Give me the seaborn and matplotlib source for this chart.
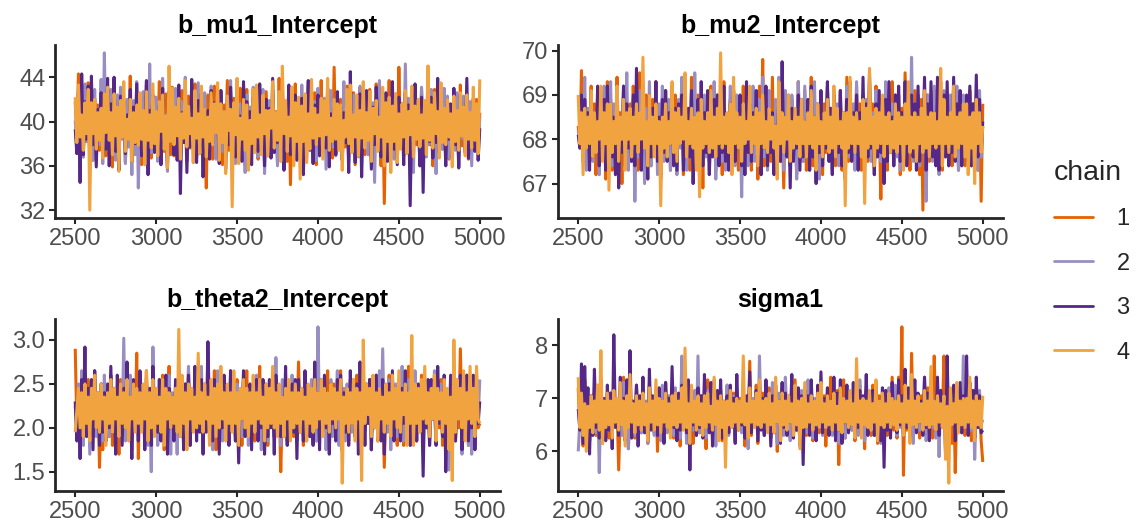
import numpy as np
import pandas as pd
import seaborn as sns
import matplotlib.pyplot as plt
from matplotlib.lines import Line2D

# ---------------------------------------------------------------------------
# Thinned posterior draws for four chains, post-warmup iterations 2500-5000
# ---------------------------------------------------------------------------
parameters = ["b_mu1_Intercept", "b_mu2_Intercept", "b_theta2_Intercept", "sigma1"]
chains = ["1", "2", "3", "4"]
chain_colors = ["#E66101", "#998EC3", "#542788", "#F1A340"]

x_ticks = [2500, 3000, 3500, 4000, 4500, 5000]
y_ticks = {
    "b_mu1_Intercept": [32, 36, 40, 44],
    "b_mu2_Intercept": [67, 68, 69, 70],
    "b_theta2_Intercept": [1.5, 2.0, 2.5, 3.0],
    "sigma1": [6, 7, 8],
}
y_tick_labels = {
    "b_mu1_Intercept": ["32", "36", "40", "44"],
    "b_mu2_Intercept": ["67", "68", "69", "70"],
    "b_theta2_Intercept": ["1.5", "2.0", "2.5", "3.0"],
    "sigma1": ["6", "7", "8"],
}

mu1_chain1 = [
    41.8, 38.6, 44.3, 37.9, 40.9, 36.8, 42.6, 38.2, 43.5, 37.1, 40.2, 36.5, 42.1, 38.8, 41.5, 37.4, 43.0, 38.1, 40.7, 36.9,
    42.4, 37.6, 41.2, 35.9, 43.8, 38.0, 40.5, 37.2, 42.9, 38.7, 41.9, 36.3, 40.8, 37.8, 44.1, 36.5, 41.3, 38.3, 42.7, 37.5,
    40.6, 36.1, 41.9, 38.4, 43.3, 37.0, 41.4, 36.7, 42.2, 37.9, 40.4, 38.5, 43.6, 36.2, 41.0, 37.3, 42.5, 38.9, 40.6, 37.0,
    43.1, 36.9, 41.7, 38.2, 40.1, 37.7, 42.8, 38.4, 41.6, 36.4, 42.3, 37.6, 41.8, 38.2, 43.4, 36.8, 40.9, 37.1, 42.0, 38.0,
    40.3, 34.0, 42.4, 37.4, 41.1, 36.6, 43.2, 37.8, 40.7, 38.3, 42.6, 36.1, 41.5, 37.9, 43.7, 37.4, 41.0, 38.6, 42.1, 36.8,
    41.6, 37.2, 43.0, 38.5, 40.8, 36.0, 42.9, 37.8, 41.3, 38.1, 43.0, 37.5, 40.6, 36.6, 42.2, 38.4, 41.0, 37.3, 42.7, 36.9,
    41.7, 37.7, 42.8, 38.4, 40.9, 36.3, 43.9, 37.3, 41.3, 38.7, 40.0, 36.4, 42.3, 34.3, 41.8, 38.2, 43.4, 37.1, 40.3, 38.9,
    42.0, 36.6, 41.1, 37.7, 43.2, 37.8, 40.7, 38.3, 42.6, 36.1, 41.5, 38.6, 43.7, 37.4, 40.8, 37.2, 42.1, 38.5, 41.6, 36.7,
    44.9, 37.1, 40.3, 38.9, 42.0, 36.6, 41.1, 37.7, 43.2, 37.8, 40.7, 38.3, 42.6, 36.1, 41.9, 37.6, 43.1, 38.4, 40.6, 37.0,
    41.8, 38.2, 42.9, 36.7, 41.2, 37.5, 43.4, 38.8, 40.5, 36.0, 42.3, 32.6, 41.5, 38.6, 43.7, 37.4, 40.9, 37.9, 42.2, 36.8,
    44.9, 39.0, 41.6, 36.8, 42.1, 38.5, 40.8, 37.2, 41.6, 38.4, 43.2, 37.9, 40.2, 36.0, 42.9, 38.8, 41.3, 37.3, 45.0, 37.9,
    40.2, 36.0, 42.9, 38.8, 41.3, 37.1, 43.0, 37.5, 40.6, 38.4, 42.2, 36.6, 41.0, 37.6, 42.6, 38.0, 40.4, 36.9, 43.3, 37.8,
    41.2, 38.4, 42.2, 36.6, 41.0, 37.9, 40.8, 38.1, 42.0, 37.2, 40.8,
]
mu1_chain2 = [
    40.1, 37.6, 42.8, 38.9, 41.3, 36.8, 43.4, 38.2, 40.5, 37.3, 41.7, 36.5, 42.9, 38.3, 41.0, 37.9, 43.8, 36.2, 46.2, 38.0,
    41.7, 37.3, 42.9, 38.6, 40.8, 36.5, 42.4, 37.9, 43.1, 38.4, 41.5, 36.2, 42.0, 37.7, 40.3, 35.2, 41.9, 37.0, 43.6, 34.0,
    41.2, 38.8, 42.7, 37.5, 40.0, 35.8, 45.2, 37.2, 41.6, 38.1, 42.2, 36.4, 41.4, 38.7, 43.9, 37.8, 40.6, 35.5, 42.5, 38.7,
    41.1, 37.1, 43.0, 38.2, 40.9, 36.9, 41.8, 38.5, 44.0, 37.4, 40.7, 38.5, 42.3, 36.3, 41.2, 37.6, 43.5, 38.2, 40.2, 35.9,
    42.6, 38.9, 41.0, 37.0, 43.2, 38.3, 40.4, 36.6, 41.7, 38.3, 42.8, 37.3, 40.4, 36.9, 41.9, 38.6, 43.7, 37.9, 40.1, 36.2,
    42.0, 39.0, 41.6, 37.7, 40.9, 35.4, 42.4, 38.8, 41.3, 37.1, 43.1, 38.5, 40.6, 36.8, 41.5, 38.0, 42.9, 35.3, 40.6, 38.4,
    41.9, 37.5, 42.3, 39.1, 40.8, 36.0, 41.1, 38.3, 43.4, 37.6, 40.2, 38.9, 42.7, 37.0, 41.3, 36.4, 42.0, 38.6, 40.9, 37.2,
    43.3, 38.1, 41.4, 36.7, 42.6, 37.9, 40.5, 38.7, 41.8, 36.5, 43.0, 37.4, 40.7, 38.2, 42.1, 35.7, 41.6, 38.0, 42.8, 37.7,
    40.3, 36.9, 42.5, 38.4, 41.2, 37.2, 43.6, 38.9, 40.6, 36.3, 41.9, 37.8, 42.4, 38.6, 40.8, 36.8, 43.2, 37.5, 41.1, 38.1,
    42.7, 37.0, 40.9, 38.3, 41.7, 34.5, 42.0, 37.6, 43.7, 38.7, 40.4, 36.2, 42.0, 37.9, 41.3, 38.4, 40.7, 36.6, 42.5, 37.3,
    41.6, 38.2, 40.9, 36.9, 45.2, 37.7, 42.1, 38.5, 40.6, 35.4, 42.4, 38.8, 41.3, 37.1, 43.1, 39.0, 40.5, 36.8, 41.5, 38.0,
    42.9, 37.2, 40.8, 35.3, 41.7, 38.4, 41.9, 37.5, 43.0, 38.6, 42.3, 36.7, 40.9, 38.2, 41.4, 37.4, 42.6, 36.0, 41.1, 38.5,
    42.3, 37.5, 40.6, 39.2, 41.8, 36.0, 42.1, 38.3, 41.1, 37.8, 40.3,
]
mu1_chain3 = [
    39.3, 37.1, 42.6, 34.5, 44.3, 37.0, 41.8, 38.4, 43.2, 36.2, 44.1, 37.9, 40.7, 35.9, 41.1, 38.9, 42.6, 36.8, 40.3, 37.5,
    43.9, 36.0, 41.6, 38.2, 44.0, 37.3, 40.9, 35.6, 42.3, 39.4, 41.8, 37.1, 40.6, 38.6, 42.9, 36.4, 41.3, 38.0, 43.4, 37.8,
    42.1, 36.9, 40.6, 38.7, 43.7, 35.2, 41.0, 39.6, 42.4, 37.2, 40.2, 38.3, 41.5, 36.1, 43.0, 37.6, 39.8, 35.8, 42.7, 38.9,
    41.2, 37.0, 39.9, 36.5, 43.3, 33.5, 40.8, 38.1, 42.0, 35.4, 41.4, 37.7, 43.8, 38.5, 40.4, 36.3, 41.9, 39.3, 42.5, 35.0,
    40.1, 37.4, 41.0, 36.6, 42.8, 38.0, 41.7, 39.5, 40.7, 36.2, 42.8, 38.4, 40.7, 35.7, 41.3, 37.9, 43.1, 39.7, 41.0, 36.8,
    42.6, 38.2, 40.5, 36.4, 43.6, 38.6, 41.8, 37.5, 40.9, 36.1, 42.2, 39.0, 41.5, 37.3, 43.4, 38.7, 40.3, 36.0, 42.0, 38.1,
    41.2, 36.7, 43.9, 37.2, 40.4, 38.1, 42.0, 36.9, 41.6, 35.6, 40.6, 38.7, 43.3, 37.0, 41.8, 38.3, 42.4, 36.5, 40.8, 37.8,
    42.1, 35.2, 41.0, 38.6, 43.7, 37.4, 40.2, 36.2, 41.5, 38.9, 42.4, 36.9, 40.6, 38.3, 41.9, 37.6, 43.0, 35.9, 40.7, 38.5,
    41.2, 37.0, 42.7, 38.9, 41.4, 36.5, 40.8, 38.1, 42.0, 35.4, 44.5, 37.7, 40.4, 36.3, 41.9, 39.3, 42.5, 35.0, 40.6, 37.9,
    42.8, 38.4, 40.7, 35.7, 41.3, 37.9, 43.1, 39.7, 40.1, 36.8, 41.0, 38.2, 42.6, 36.4, 40.5, 38.6, 43.6, 37.5, 41.8, 36.1,
    42.2, 39.0, 40.9, 36.1, 42.6, 38.7, 41.5, 32.4, 40.5, 37.3, 43.4, 38.6, 41.1, 36.0, 42.2, 33.6, 41.8, 37.5, 40.9, 38.2,
    42.2, 36.7, 40.3, 38.1, 43.9, 37.2, 41.5, 38.7, 40.1, 36.0, 42.0, 38.4, 41.6, 36.7, 43.0, 37.9, 40.5, 35.8, 42.4, 38.9,
    41.0, 37.2, 43.9, 36.7, 40.3, 38.1, 42.0, 37.3, 41.4, 36.5, 39.4,
]
mu1_chain4 = [
    42.2, 38.1, 43.3, 38.6, 40.6, 37.4, 41.7, 38.9, 42.9, 32.0, 41.7, 38.9, 42.0, 37.5, 40.8, 38.3, 41.2, 36.7, 42.5, 39.0,
    43.1, 38.3, 40.8, 37.0, 42.5, 38.7, 41.3, 35.5, 41.9, 38.6, 43.6, 37.3, 40.2, 38.4, 42.0, 36.4, 40.8, 38.1, 41.5, 37.8,
    42.6, 38.4, 41.0, 36.1, 42.7, 38.3, 40.6, 37.6, 43.4, 38.0, 40.9, 36.9, 41.8, 39.1, 42.4, 37.5, 40.5, 35.8, 45.0, 38.2,
    43.0, 37.9, 41.3, 38.7, 42.1, 36.6, 40.7, 38.5, 43.7, 37.7, 41.4, 38.9, 40.3, 36.3, 42.8, 38.5, 40.7, 37.1, 43.2, 38.6,
    41.1, 36.8, 40.4, 38.2, 42.6, 37.9, 41.6, 39.0, 43.5, 36.5, 41.6, 38.1, 40.9, 35.3, 42.3, 39.2, 41.1, 32.3, 41.7, 38.8,
    43.9, 36.2, 40.3, 38.4, 42.0, 37.4, 41.5, 35.6, 40.1, 38.0, 42.9, 37.2, 43.3, 38.6, 40.6, 37.0, 42.4, 38.9, 41.0, 36.9,
    41.0, 39.4, 43.6, 37.6, 40.8, 38.3, 42.7, 36.4, 45.0, 38.9, 41.9, 37.3, 40.4, 38.7, 43.1, 36.0, 41.7, 38.2, 42.2, 34.8,
    41.4, 38.2, 42.5, 36.3, 40.7, 37.5, 43.8, 38.5, 41.2, 37.9, 40.6, 38.7, 42.1, 36.6, 41.9, 38.8, 43.9, 37.4, 40.3, 38.2,
    42.0, 38.4, 41.6, 37.4, 41.5, 35.6, 40.1, 38.6, 42.9, 38.0, 43.3, 37.2, 40.6, 38.6, 42.4, 36.9, 41.0, 38.5, 43.6, 37.6,
    40.8, 38.3, 42.7, 36.4, 41.2, 38.9, 41.9, 37.3, 40.4, 38.6, 43.1, 36.0, 41.7, 38.2, 42.2, 35.4, 41.4, 38.2, 42.5, 36.3,
    40.7, 37.5, 41.6, 38.6, 42.8, 37.1, 40.9, 38.8, 43.2, 36.8, 41.4, 38.4, 42.0, 37.7, 40.6, 38.5, 41.9, 37.0, 45.0, 38.3,
    41.5, 37.6, 42.6, 38.9, 40.9, 36.7, 43.5, 38.1, 41.2, 37.9, 42.0, 38.6, 40.7, 35.9, 42.3, 38.2, 41.0, 37.4, 42.6, 38.7,
    41.3, 36.9, 42.4, 38.4, 40.8, 37.6, 43.1, 38.3, 41.6, 37.1, 43.8,
]

mu2_chain1 = [
    68.3, 67.8, 69.55, 67.6, 68.9, 67.4, 68.6, 67.9, 69.2, 67.6, 68.8, 67.2, 68.5, 67.7, 69.0, 67.9, 68.7, 67.1, 69.3, 67.7,
    68.9, 67.3, 68.4, 67.8, 69.4, 67.5, 68.6, 67.0, 69.1, 67.9, 68.5, 67.6, 68.8, 67.5, 69.2, 67.9, 68.4, 67.3, 69.5, 67.8,
    68.7, 67.2, 69.0, 67.7, 68.5, 67.4, 68.9, 67.8, 69.3, 67.5, 68.6, 67.1, 68.8, 67.6, 69.1, 67.9, 68.4, 67.3, 68.8, 67.6,
    69.0, 67.4, 68.6, 67.9, 69.3, 67.2, 68.7, 67.7, 68.5, 67.3, 69.4, 67.8, 68.8, 67.5, 69.0, 67.4, 68.6, 66.9, 68.9, 67.8,
    68.7, 67.5, 69.2, 67.7, 68.5, 67.3, 69.0, 67.9, 68.6, 67.2, 69.3, 67.6, 68.4, 67.8, 68.9, 67.4, 69.1, 67.6, 68.7, 67.3,
    68.9, 67.7, 69.2, 67.5, 68.6, 67.9, 69.0, 67.3, 68.5, 67.6, 68.8, 67.1, 69.2, 67.7, 69.8, 67.4, 68.6, 67.9, 68.9, 67.5,
    69.4, 67.3, 68.7, 67.8, 69.2, 67.5, 68.5, 66.9, 68.6, 67.8, 69.0, 67.4, 68.9, 67.6, 68.4, 67.2, 69.3, 67.8, 68.7, 67.5,
    69.1, 67.3, 68.6, 67.7, 69.4, 67.4, 68.9, 67.9, 68.5, 67.5, 69.0, 67.2, 68.8, 67.7, 69.2, 67.6, 68.4, 67.9, 69.0, 67.4,
    68.7, 67.6, 69.1, 67.3, 68.6, 67.7, 69.4, 67.5, 68.9, 67.8, 68.5, 67.4, 69.2, 67.6, 68.8, 67.3, 69.0, 67.9, 68.6, 67.5,
    69.0, 67.7, 68.8, 67.4, 69.2, 67.9, 68.4, 66.65, 68.9, 67.6, 69.1, 67.3, 68.7, 67.8, 69.3, 67.5, 68.5, 67.7, 69.0, 67.2,
    68.7, 67.6, 69.5, 67.8, 68.5, 67.3, 68.9, 67.7, 69.1, 67.5, 68.6, 67.2, 68.9, 66.4, 68.7, 67.7, 69.0, 67.5, 68.5, 67.9,
    69.1, 67.5, 68.7, 67.9, 69.3, 67.3, 68.6, 67.8, 69.0, 67.6, 68.8, 67.4, 69.2, 67.7, 68.5, 67.3, 69.0, 67.8, 68.6, 67.4,
    68.8, 67.8, 69.1, 67.4, 68.8, 67.6, 68.5, 67.3, 68.9, 66.6, 68.8,
]
mu2_chain2 = [
    68.2, 67.9, 69.0, 67.6, 69.4, 67.3, 68.7, 67.8, 69.1, 67.5, 68.5, 67.8, 68.9, 67.2, 68.6, 67.7, 69.2, 67.4, 68.4, 67.9,
    69.3, 67.4, 68.8, 67.6, 69.0, 67.1, 68.5, 67.7, 69.2, 67.8, 69.5, 67.3, 68.6, 67.9, 68.9, 66.6, 68.4, 67.6, 69.1, 67.5,
    68.7, 67.0, 68.7, 67.6, 69.3, 67.4, 68.5, 67.8, 69.0, 67.2, 68.8, 67.7, 69.2, 67.5, 68.4, 67.9, 68.9, 67.3, 69.1, 67.6,
    68.6, 67.2, 68.9, 67.8, 69.4, 67.5, 68.7, 67.3, 68.5, 67.9, 69.1, 67.4, 69.5, 67.7, 68.6, 67.2, 68.9, 67.8, 69.0, 67.6,
    68.8, 67.3, 68.5, 67.7, 69.3, 67.1, 68.6, 67.8, 69.0, 67.5, 68.9, 67.3, 68.4, 67.9, 69.2, 67.6, 68.7, 67.4, 69.0, 67.8,
    68.5, 66.7, 68.8, 67.9, 69.0, 67.4, 68.6, 67.7, 69.2, 67.5, 68.4, 67.8, 68.9, 67.2, 69.4, 67.6, 68.7, 67.3, 69.1, 67.8,
    68.6, 67.5, 68.9, 67.2, 69.4, 67.8, 68.7, 67.3, 69.1, 67.6, 68.8, 67.4, 69.0, 67.9, 68.5, 67.1, 69.3, 67.7, 68.8, 67.5,
    69.2, 67.6, 68.6, 67.3, 68.9, 67.8, 69.3, 67.4, 68.6, 67.1, 69.0, 67.7, 68.4, 67.9, 69.2, 67.5, 68.7, 67.3, 69.1, 67.6,
    68.8, 67.4, 69.0, 67.8, 68.5, 67.2, 69.2, 67.6, 68.4, 67.9, 68.8, 67.3, 69.3, 67.5, 68.6, 67.7, 69.0, 67.4, 68.9, 67.8,
    69.3, 67.5, 68.6, 67.2, 69.1, 67.8, 68.7, 67.5, 68.9, 67.3, 69.3, 67.6, 68.5, 67.9, 68.8, 67.4, 69.0, 67.6, 68.6, 67.3,
    68.5, 67.9, 69.0, 67.6, 68.7, 67.8, 69.85, 67.5, 68.8, 67.6, 69.0, 67.4, 68.6, 67.7, 68.4, 66.6, 69.0, 67.8, 68.7, 67.5,
    69.2, 67.5, 68.6, 67.2, 68.9, 67.8, 69.1, 67.6, 68.8, 67.4, 69.0, 67.9, 68.4, 67.6, 69.2, 67.3, 68.7, 67.4, 69.0, 67.6,
    68.7, 67.4, 69.0, 67.8, 68.6, 67.6, 68.9, 67.3, 69.1, 67.6, 68.3,
]
mu2_chain3 = [
    68.1, 67.8, 69.0, 67.5, 68.9, 67.9, 68.6, 67.3, 69.1, 67.6, 68.5, 67.8, 69.2, 67.4, 68.7, 67.7, 68.9, 67.3, 69.2, 67.6,
    68.8, 67.6, 68.5, 67.2, 69.0, 66.9, 68.5, 67.7, 69.2, 67.4, 68.8, 67.8, 68.3, 67.5, 69.0, 67.4, 69.6, 67.8, 68.6, 67.3,
    68.8, 67.9, 68.4, 67.1, 69.0, 67.6, 68.7, 67.8, 69.3, 67.5, 68.5, 67.2, 68.9, 67.7, 69.1, 67.5, 68.6, 67.9, 69.2, 67.4,
    68.7, 67.3, 68.8, 67.9, 69.0, 67.3, 68.4, 67.8, 68.7, 67.6, 69.1, 67.0, 68.5, 67.6, 68.9, 67.8, 69.3, 67.4, 68.6, 67.7,
    69.1, 67.2, 68.3, 67.6, 68.9, 67.9, 69.0, 67.4, 68.6, 67.7, 69.2, 67.5, 68.5, 67.3, 68.8, 67.9, 69.1, 67.5, 68.4, 67.8,
    69.0, 67.4, 68.7, 67.2, 69.3, 67.7, 68.8, 67.5, 68.6, 67.9, 69.1, 67.6, 68.5, 67.2, 68.9, 67.8, 69.2, 67.4, 68.7, 67.7,
    68.6, 67.2, 68.3, 67.9, 69.0, 67.5, 69.75, 67.8, 68.4, 67.6, 68.7, 66.9, 68.7, 67.5, 68.2, 67.8, 69.0, 67.3, 68.9, 67.6,
    68.4, 67.8, 68.9, 67.3, 69.2, 67.6, 68.5, 67.0, 68.8, 67.7, 69.1, 67.4, 68.6, 67.8, 69.3, 67.5, 68.7, 67.2, 69.0, 67.6,
    68.2, 67.7, 69.1, 67.4, 68.4, 67.1, 68.9, 67.7, 69.3, 67.5, 68.6, 67.8, 69.0, 67.3, 68.6, 67.7, 69.4, 67.5, 68.8, 67.6,
    69.5, 67.8, 68.3, 67.2, 68.8, 67.6, 69.1, 67.7, 68.4, 67.0, 68.9, 67.5, 69.3, 67.7, 68.5, 67.4, 69.0, 67.8, 69.2, 67.5,
    68.6, 67.7, 69.3, 67.4, 68.5, 67.8, 69.0, 67.6, 68.8, 67.3, 69.2, 67.5, 68.6, 67.9, 69.4, 67.3, 68.8, 67.6, 69.3, 67.6,
    68.6, 67.4, 69.4, 67.3, 68.7, 67.8, 69.0, 67.6, 69.3, 67.4, 68.5, 67.7, 69.4, 67.5, 68.8, 67.9, 69.1, 67.4, 68.6, 67.7,
    69.0, 67.5, 69.2, 67.4, 68.8, 67.7, 69.45, 67.6, 68.9, 67.7, 68.4,
]
mu2_chain4 = [
    69.0, 67.9, 68.6, 67.2, 68.7, 67.8, 68.5, 67.9, 69.1, 67.6, 68.6, 67.7, 68.4, 68.0, 69.2, 67.5, 68.6, 67.9, 68.8, 66.85,
    68.8, 67.7, 68.4, 67.9, 69.2, 67.5, 68.5, 68.0, 68.9, 67.3, 68.6, 68.0, 68.7, 67.6, 68.5, 67.9, 68.8, 67.7, 68.6, 68.0,
    69.85, 67.8, 68.4, 67.4, 69.0, 67.9, 68.5, 67.6, 68.8, 67.9, 68.4, 66.5, 68.5, 67.8, 68.8, 67.6, 68.4, 67.9, 69.3, 67.7,
    68.6, 67.5, 68.7, 67.9, 68.5, 68.0, 69.5, 67.6, 68.4, 67.9, 68.7, 67.8, 68.5, 67.3, 68.6, 66.7, 68.9, 67.8, 68.4, 67.9,
    68.6, 67.7, 69.1, 67.8, 68.5, 67.6, 68.7, 67.9, 69.95, 67.8, 68.5, 67.9, 68.6, 67.7, 68.8, 67.2, 69.4, 67.9, 68.6, 67.8,
    68.5, 67.5, 68.8, 67.9, 68.4, 68.0, 69.2, 67.7, 68.5, 67.9, 68.7, 67.4, 68.6, 67.9, 69.0, 67.8, 68.4, 67.7, 68.7, 68.0,
    68.5, 67.8, 68.3, 67.1, 69.3, 67.9, 68.6, 67.7, 68.5, 68.0, 69.0, 67.5, 68.4, 67.8, 68.7, 67.9, 68.5, 67.6, 68.9, 67.9,
    68.4, 67.6, 68.6, 67.9, 69.1, 67.8, 68.5, 67.3, 68.8, 67.9, 68.4, 67.6, 68.6, 67.9, 68.9, 67.7, 68.5, 67.8, 69.2, 67.6,
    68.7, 67.9, 68.4, 67.8, 68.6, 66.5, 68.6, 67.8, 69.4, 67.9, 68.5, 67.7, 68.6, 67.9, 68.4, 67.6, 68.9, 66.55, 68.7, 67.8,
    69.6, 67.9, 68.5, 67.4, 68.7, 67.8, 68.6, 67.9, 69.0, 67.6, 68.5, 67.9, 68.6, 67.7, 68.4, 67.8, 68.8, 67.7, 68.6, 67.9,
    68.5, 67.3, 68.8, 67.9, 69.3, 67.7, 68.5, 67.8, 68.6, 67.5, 68.5, 67.9, 68.7, 67.7, 69.1, 67.8, 68.5, 67.6, 68.6, 67.9,
    68.6, 67.8, 68.4, 67.9, 69.6, 67.4, 68.9, 67.9, 68.5, 67.7, 68.6, 67.9, 69.2, 67.6, 68.5, 67.8, 68.6, 67.9, 68.8, 67.6,
    68.8, 67.2, 68.5, 67.8, 68.6, 67.0, 68.9, 67.9, 68.6, 67.7, 68.3,
]

theta2_chain1 = [
    2.90, 2.05, 2.45, 1.85, 2.60, 2.15, 2.35, 1.95, 2.55, 2.00, 2.30, 1.90, 2.65, 2.10, 2.40, 1.55, 2.20, 1.75, 2.50, 2.00,
    2.35, 1.90, 2.60, 1.80, 2.45, 2.05, 2.30, 1.70, 2.55, 2.15, 2.40, 1.90, 2.70, 2.10, 2.25, 1.85, 2.50, 2.00, 2.85, 1.65,
    2.45, 2.20, 2.35, 1.95, 2.65, 2.10, 2.30, 1.80, 2.55, 2.05, 2.40, 1.90, 2.25, 2.00, 2.60, 1.75, 2.50, 2.15, 2.70, 1.95,
    2.30, 2.05, 2.45, 1.85, 2.40, 2.10, 2.55, 1.90, 2.35, 2.00, 2.65, 1.80, 2.30, 2.10, 2.45, 1.95, 2.60, 2.05, 2.35, 1.85,
    2.50, 2.00, 2.25, 1.95, 2.40, 2.10, 2.65, 1.75, 2.30, 2.05, 2.45, 1.90, 2.55, 2.15, 2.35, 1.85, 2.60, 2.00, 2.45, 1.90,
    2.55, 2.20, 2.35, 1.80, 2.45, 2.10, 2.65, 1.95, 2.30, 2.05, 2.50, 1.85, 2.40, 2.15, 2.70, 1.95, 2.35, 2.00, 2.50, 1.80,
    2.30, 2.05, 2.45, 1.90, 2.55, 2.15, 2.35, 1.50, 2.20, 1.95, 2.55, 1.85, 2.40, 2.10, 2.30, 1.90, 2.50, 2.05, 2.75, 2.00,
    2.30, 1.80, 2.60, 2.15, 2.45, 1.90, 2.35, 2.05, 2.55, 1.85, 2.25, 2.10, 2.50, 1.95, 2.40, 2.05, 2.65, 1.75, 2.30, 2.00,
    2.50, 1.95, 2.40, 2.10, 2.65, 1.75, 2.30, 2.00, 2.45, 1.85, 2.55, 2.15, 2.35, 1.90, 2.60, 2.05, 2.40, 1.85, 2.25, 2.00,
    2.45, 2.15, 2.55, 1.90, 2.35, 2.05, 2.60, 1.85, 2.40, 2.20, 2.30, 1.55, 2.35, 2.05, 2.60, 1.85, 2.50, 2.00, 2.30, 1.80,
    2.50, 2.00, 2.25, 1.80, 2.45, 2.10, 2.70, 1.95, 2.35, 2.05, 2.55, 1.85, 2.40, 2.15, 2.60, 1.90, 2.30, 2.00, 2.45, 1.85,
    2.40, 2.15, 2.60, 1.90, 2.30, 2.00, 2.55, 1.80, 2.45, 2.10, 2.35, 1.95, 2.50, 2.05, 2.40, 1.85, 2.30, 2.00, 2.90, 2.10,
    2.50, 1.95, 2.35, 1.80, 2.50, 2.05, 2.35, 1.90, 2.45, 2.00, 2.05,
]
theta2_chain2 = [
    2.25, 1.95, 2.50, 2.10, 2.65, 1.80, 2.35, 2.05, 2.45, 1.70, 2.40, 2.00, 2.55, 1.90, 2.30, 2.05, 2.50, 1.85, 2.60, 2.00,
    2.35, 1.90, 2.55, 2.00, 2.40, 1.85, 2.30, 2.10, 2.45, 1.95, 3.02, 1.85, 2.30, 2.05, 2.60, 1.75, 2.40, 2.10, 2.25, 1.95,
    2.50, 2.05, 2.35, 1.95, 2.55, 1.80, 2.25, 1.50, 2.92, 2.10, 2.35, 1.80, 2.55, 2.00, 2.40, 1.90, 2.30, 2.05, 2.60, 1.70,
    2.40, 2.20, 2.30, 1.70, 2.60, 2.05, 2.30, 1.90, 2.50, 2.15, 2.70, 1.85, 2.35, 2.10, 2.55, 1.95, 2.25, 2.10, 2.70, 1.80,
    2.40, 2.00, 2.60, 2.15, 2.45, 1.75, 2.30, 1.95, 2.65, 2.05, 2.35, 1.85, 2.50, 2.20, 2.45, 1.95, 2.65, 2.05, 2.35, 1.85,
    2.50, 2.20, 2.40, 1.90, 2.55, 2.10, 2.30, 1.80, 2.45, 2.00, 2.35, 1.95, 2.60, 2.10, 2.45, 1.75, 2.55, 2.15, 2.35, 1.85,
    2.50, 2.20, 2.40, 1.90, 2.80, 2.05, 2.40, 1.80, 2.55, 2.10, 2.30, 2.00, 2.45, 1.95, 2.60, 2.15, 2.35, 1.85, 2.50, 1.95,
    2.45, 2.15, 2.60, 1.85, 2.35, 2.05, 2.55, 1.90, 2.40, 1.85, 3.15, 2.05, 2.25, 1.95, 2.50, 1.75, 2.35, 2.10, 2.55, 1.90,
    2.40, 2.20, 2.65, 1.80, 2.30, 2.00, 2.45, 1.85, 2.50, 2.15, 2.40, 1.95, 2.55, 2.00, 2.35, 1.85, 2.50, 2.15, 2.40, 1.95,
    2.30, 2.05, 2.55, 1.75, 2.45, 2.10, 2.35, 1.90, 2.65, 2.00, 2.90, 2.05, 2.35, 1.95, 2.55, 1.75, 2.40, 2.15, 2.50, 1.90,
    2.45, 2.10, 2.70, 1.85, 2.30, 2.00, 2.55, 1.80, 2.40, 2.15, 2.65, 1.95, 2.35, 2.05, 2.50, 1.85, 2.45, 2.10, 2.25, 1.80,
    2.40, 2.10, 2.65, 1.95, 2.35, 2.05, 2.50, 1.90, 2.40, 1.75, 2.30, 1.52, 2.35, 2.05, 2.50, 1.90, 2.45, 2.15, 2.60, 1.70,
    2.40, 2.00, 2.60, 1.80, 2.35, 1.70, 2.45, 2.05, 2.60, 2.10, 2.55,
]
theta2_chain3 = [
    2.30, 1.85, 2.40, 1.65, 2.55, 2.05, 2.92, 1.90, 2.45, 2.10, 2.55, 1.75, 2.65, 2.00, 2.35, 1.80, 2.50, 1.95, 2.40, 1.85,
    2.50, 2.00, 2.70, 1.95, 2.35, 1.70, 2.60, 2.15, 2.45, 1.80, 2.45, 2.05, 2.75, 1.90, 2.30, 1.65, 2.55, 2.10, 2.40, 1.85,
    2.65, 2.00, 2.35, 1.75, 2.50, 2.20, 2.45, 1.80, 2.70, 2.05, 2.40, 1.95, 2.55, 1.85, 2.35, 2.00, 2.60, 1.70, 2.45, 2.00,
    2.35, 1.85, 2.55, 2.10, 2.65, 1.90, 2.40, 1.75, 2.50, 2.05, 2.60, 1.80, 2.40, 2.00, 2.70, 1.85, 2.45, 1.95, 2.55, 1.70,
    2.45, 1.95, 2.98, 2.15, 2.50, 1.85, 2.55, 2.25, 2.45, 1.70, 2.45, 2.00, 2.60, 1.90, 2.35, 1.80, 2.65, 2.05, 2.45, 1.85,
    2.35, 1.60, 2.40, 2.10, 2.65, 1.90, 2.40, 2.05, 2.50, 1.75, 2.50, 2.20, 2.55, 1.85, 2.40, 2.00, 2.55, 1.70, 2.30, 1.90,
    2.55, 2.00, 2.45, 1.70, 2.60, 2.15, 2.45, 1.90, 2.35, 1.95, 2.70, 1.80, 2.40, 2.15, 2.50, 1.95, 2.55, 1.65, 2.55, 2.00,
    2.35, 1.85, 2.65, 2.10, 2.45, 1.90, 2.30, 1.80, 2.75, 2.05, 2.40, 1.75, 2.55, 1.95, 2.60, 2.00, 2.40, 1.70, 2.50, 2.05,
    2.35, 1.85, 2.55, 2.20, 2.60, 1.75, 2.40, 1.95, 2.45, 1.80, 2.65, 2.05, 2.35, 1.90, 2.50, 1.70, 2.75, 2.00, 2.40, 1.80,
    2.50, 2.05, 2.55, 1.75, 2.40, 2.00, 2.60, 1.95, 2.35, 1.85, 2.55, 1.70, 2.45, 2.15, 2.50, 1.90, 2.65, 1.85, 2.45, 2.05,
    2.40, 1.85, 2.45, 2.05, 2.65, 1.90, 2.30, 1.80, 2.55, 2.00, 2.40, 1.85, 2.50, 2.10, 2.35, 1.45, 2.40, 2.00, 2.55, 1.80,
    2.55, 2.10, 2.25, 1.80, 2.70, 2.05, 2.35, 1.90, 2.60, 1.50, 2.35, 2.00, 2.60, 1.95, 2.40, 1.85, 2.45, 2.15, 2.60, 1.75,
    2.45, 2.05, 2.60, 1.85, 2.45, 2.00, 2.60, 1.75, 2.40, 2.05, 2.30,
]
theta2_chain4 = [
    1.95, 2.20, 2.45, 2.00, 2.40, 1.90, 2.50, 2.05, 2.35, 1.85, 2.45, 2.10, 2.60, 2.00, 2.40, 1.95, 2.50, 2.10, 2.35, 1.80,
    2.40, 2.05, 2.55, 1.95, 2.45, 2.10, 2.35, 1.90, 2.50, 2.05, 2.40, 2.00, 2.55, 1.85, 2.35, 2.10, 2.50, 1.95, 2.45, 2.05,
    2.40, 1.95, 2.50, 2.10, 2.65, 1.85, 2.40, 2.00, 2.55, 1.90, 2.45, 2.05, 2.35, 1.95, 2.55, 1.80, 2.45, 2.10, 2.40, 2.00,
    2.35, 2.05, 2.45, 1.95, 3.12, 1.90, 2.60, 2.05, 2.40, 1.75, 2.50, 2.10, 2.45, 1.95, 2.35, 2.00, 2.85, 2.05, 2.40, 1.95,
    2.50, 2.10, 2.35, 1.80, 2.55, 2.05, 2.45, 1.90, 2.50, 2.00, 2.70, 2.10, 2.40, 1.85, 2.50, 2.05, 2.40, 1.95, 2.65, 2.05,
    2.40, 1.80, 2.45, 2.10, 2.55, 2.00, 2.45, 1.90, 2.40, 2.05, 2.60, 1.95, 2.40, 2.10, 2.55, 2.05, 2.35, 1.85, 2.50, 2.00,
    2.45, 2.05, 2.70, 2.00, 2.40, 1.90, 2.50, 2.05, 2.35, 1.90, 2.45, 2.10, 2.55, 1.85, 2.40, 2.00, 2.50, 2.05, 2.40, 1.95,
    2.45, 2.10, 2.35, 1.85, 2.50, 2.05, 2.45, 1.95, 2.55, 2.00, 2.40, 2.10, 2.55, 1.90, 2.45, 2.05, 2.40, 1.95, 2.50, 2.10,
    2.45, 2.00, 2.40, 2.10, 2.55, 1.37, 2.35, 2.05, 2.45, 1.95, 2.40, 2.05, 2.55, 1.85, 2.45, 2.10, 2.40, 1.40, 3.00, 2.05,
    2.50, 2.15, 2.45, 1.90, 2.60, 2.00, 2.40, 1.85, 2.45, 2.10, 2.35, 1.95, 2.50, 2.05, 2.40, 1.90, 2.60, 2.10, 2.45, 2.00,
    2.65, 1.95, 2.40, 2.15, 2.50, 1.80, 2.40, 2.05, 3.05, 1.80, 2.50, 2.05, 2.45, 1.95, 2.55, 2.10, 2.70, 2.05, 2.40, 1.90,
    2.45, 2.10, 2.60, 1.85, 2.45, 2.10, 2.40, 1.95, 2.55, 2.05, 2.45, 1.75, 2.35, 1.40, 3.00, 1.95, 2.55, 2.10, 2.45, 2.00,
    2.65, 1.85, 2.40, 2.10, 2.70, 2.05, 2.45, 1.90, 2.70, 2.10, 2.05,
]

sigma1_chain1 = [
    7.20, 6.40, 6.90, 6.10, 7.35, 6.60, 7.05, 6.20, 6.85, 6.45, 7.10, 6.30, 6.95, 6.50, 7.25, 6.15, 6.80, 6.40, 7.00, 6.25,
    7.10, 6.30, 6.95, 6.50, 6.85, 5.65, 6.75, 6.45, 7.40, 6.55, 6.95, 6.05, 7.00, 6.40, 6.80, 6.25, 7.25, 6.55, 6.90, 6.35,
    7.15, 6.50, 6.80, 6.15, 7.25, 6.45, 6.95, 6.35, 7.05, 6.00, 7.15, 6.55, 6.85, 6.30, 7.30, 6.40, 6.90, 6.50, 7.05, 6.25,
    6.85, 6.55, 7.05, 6.10, 6.90, 6.45, 7.45, 6.30, 6.95, 6.60, 7.20, 6.15, 6.85, 6.45, 7.10, 6.35, 6.95, 6.60, 7.15, 6.05,
    7.35, 6.50, 6.90, 6.25, 7.05, 6.40, 6.95, 6.55, 7.15, 6.20, 6.85, 6.45, 7.25, 6.35, 6.95, 6.60, 7.10, 6.30, 6.90, 6.50,
    7.00, 6.55, 7.30, 6.10, 6.85, 6.45, 7.70, 6.30, 6.95, 6.50, 7.25, 6.15, 6.90, 6.50, 7.10, 6.35, 6.80, 6.60, 7.20, 6.25,
    6.95, 6.45, 7.10, 6.00, 6.90, 6.55, 7.20, 6.35, 6.85, 6.60, 7.05, 6.25, 6.95, 6.45, 7.35, 6.40, 6.85, 6.15, 7.00, 6.50,
    7.10, 6.30, 6.90, 6.55, 7.25, 6.20, 6.85, 6.45, 7.15, 6.35, 6.95, 6.60, 7.05, 6.10, 6.90, 6.50, 7.40, 6.35, 6.95, 6.55,
    7.15, 5.75, 6.90, 6.45, 7.35, 6.25, 6.85, 6.55, 7.10, 6.40, 7.00, 6.20, 6.90, 6.50, 7.25, 6.35, 6.85, 6.05, 7.15, 6.45,
    6.90, 6.30, 7.25, 6.55, 6.95, 6.15, 7.05, 6.45, 6.85, 6.60, 7.15, 6.30, 6.95, 6.50, 7.40, 6.40, 6.90, 6.25, 7.40, 6.50,
    8.35, 5.55, 7.30, 6.40, 6.95, 6.20, 7.85, 6.45, 7.05, 6.60, 6.95, 6.25, 7.05, 6.45, 6.90, 6.35, 7.20, 6.55, 6.85, 6.25,
    7.80, 6.50, 6.90, 6.35, 7.15, 6.60, 7.80, 6.35, 6.95, 6.55, 6.85, 6.15, 7.20, 5.60, 6.95, 6.40, 7.05, 6.55, 6.85, 6.30,
    7.15, 6.55, 6.85, 6.20, 7.15, 6.40, 6.95, 6.60, 7.05, 6.20, 5.80,
]
sigma1_chain2 = [
    6.00, 6.55, 7.00, 6.30, 7.15, 6.45, 6.85, 6.20, 7.05, 6.50, 6.95, 6.35, 7.25, 5.60, 7.05, 6.45, 6.85, 6.35, 7.10, 6.50,
    6.95, 6.25, 7.40, 6.60, 6.90, 6.40, 7.10, 6.30, 7.30, 6.55, 6.85, 6.05, 7.00, 6.45, 6.80, 6.30, 7.20, 6.55, 6.90, 6.35,
    7.20, 6.45, 6.95, 6.15, 7.10, 6.50, 6.85, 6.30, 7.15, 6.55, 6.95, 6.20, 7.25, 6.45, 6.90, 6.35, 7.05, 6.60, 6.85, 6.30,
    7.20, 6.45, 6.95, 6.25, 7.80, 6.50, 6.90, 6.15, 7.05, 6.55, 6.85, 6.40, 7.15, 6.30, 7.80, 6.35, 7.05, 6.60, 6.90, 6.25,
    7.15, 6.40, 6.85, 6.55, 7.35, 6.10, 6.90, 6.45, 7.05, 6.30, 6.95, 6.55, 7.25, 6.30, 6.85, 6.45, 7.05, 6.20, 7.20, 6.50,
    6.90, 6.35, 7.10, 6.55, 6.95, 6.05, 7.20, 6.40, 7.00, 6.60, 6.90, 6.25, 7.80, 6.50, 6.85, 6.30, 7.10, 6.55, 6.95, 6.40,
    7.30, 6.55, 6.85, 6.15, 7.10, 6.45, 6.90, 6.30, 7.40, 6.60, 6.95, 6.20, 7.05, 6.50, 7.25, 6.40, 6.85, 6.10, 7.15, 6.55,
    6.90, 6.35, 7.35, 6.60, 6.95, 6.25, 7.00, 6.45, 6.85, 6.55, 7.20, 6.30, 6.95, 6.50, 7.10, 6.40, 6.85, 6.30, 7.30, 6.55,
    6.95, 6.15, 7.05, 6.45, 6.90, 6.25, 7.25, 6.50, 6.85, 6.40, 7.15, 6.55, 6.95, 6.30, 7.35, 6.45, 6.90, 6.20, 7.00, 6.55,
    7.10, 6.40, 6.85, 6.30, 7.30, 6.55, 6.90, 6.15, 7.05, 6.45, 6.95, 6.60, 7.20, 6.35, 6.85, 6.50, 7.25, 6.30, 7.00, 6.45,
    6.90, 6.30, 7.10, 6.55, 6.95, 6.40, 7.30, 6.15, 6.85, 6.55, 7.05, 6.40, 6.90, 6.60, 7.40, 6.20, 6.95, 6.50, 7.05, 6.45,
    6.90, 6.25, 7.25, 5.90, 7.05, 6.45, 6.85, 6.60, 7.40, 6.20, 6.95, 6.55, 7.15, 6.40, 6.90, 6.50, 7.20, 6.35, 7.80, 6.50,
    7.00, 6.35, 6.95, 6.40, 7.15, 5.85, 6.90, 6.45, 7.15, 6.50, 6.60,
]
sigma1_chain3 = [
    6.80, 6.40, 7.65, 6.15, 7.60, 6.55, 7.20, 5.95, 7.05, 6.30, 7.55, 6.45, 6.90, 6.25, 7.35, 6.50, 7.00, 6.20, 7.25, 6.40,
    7.10, 6.05, 8.20, 6.45, 6.90, 6.30, 7.40, 6.55, 7.00, 6.20, 7.35, 6.50, 7.90, 6.25, 6.95, 6.45, 7.25, 6.10, 7.05, 6.50,
    7.40, 6.35, 6.85, 6.20, 7.55, 6.40, 7.05, 6.60, 7.15, 6.30, 7.20, 6.50, 6.90, 6.15, 7.30, 6.55, 7.00, 6.35, 7.60, 6.45,
    6.85, 6.20, 7.10, 6.40, 7.25, 6.60, 7.05, 6.35, 7.35, 5.65, 7.15, 6.50, 6.90, 6.30, 7.20, 6.45, 7.05, 6.25, 7.45, 6.55,
    6.95, 6.35, 7.30, 6.10, 7.00, 6.50, 7.15, 6.40, 7.35, 6.25, 6.90, 6.55, 7.05, 6.35, 7.25, 6.60, 7.00, 6.15, 7.45, 6.40,
    6.95, 6.50, 7.20, 6.25, 7.05, 6.45, 7.50, 6.35, 6.90, 6.55, 7.15, 6.20, 7.25, 6.40, 7.00, 6.30, 7.35, 6.50, 6.95, 6.10,
    7.05, 6.35, 7.25, 6.55, 6.95, 6.15, 7.30, 6.45, 7.10, 6.30, 7.00, 6.55, 7.45, 6.25, 6.90, 6.40, 7.20, 6.50, 7.05, 5.75,
    7.15, 6.45, 7.05, 6.30, 7.35, 6.55, 6.90, 6.20, 7.25, 6.45, 7.50, 6.35, 7.00, 6.55, 7.20, 6.30, 6.95, 6.50, 7.40, 6.20,
    7.10, 6.40, 7.35, 6.15, 6.95, 6.55, 7.25, 6.35, 7.00, 6.50, 7.30, 6.25, 6.90, 6.45, 7.15, 6.35, 7.05, 6.55, 7.45, 6.30,
    7.00, 6.45, 7.15, 6.30, 7.30, 6.50, 6.95, 6.20, 7.20, 5.70, 7.15, 6.40, 7.05, 6.25, 7.30, 6.55, 6.90, 6.35, 7.35, 6.50,
    7.05, 6.30, 7.55, 6.45, 7.20, 6.25, 7.00, 6.50, 7.35, 6.35, 7.10, 6.55, 6.95, 6.30, 7.40, 6.45, 7.10, 6.20, 7.25, 6.50,
    6.95, 6.40, 7.40, 6.30, 7.15, 6.55, 7.05, 5.95, 7.80, 6.35, 7.10, 6.50, 7.25, 6.20, 7.00, 6.45, 7.30, 6.35, 7.05, 6.55,
    7.80, 6.30, 7.30, 6.50, 7.15, 6.25, 7.40, 6.45, 7.05, 6.35, 6.40,
]
sigma1_chain4 = [
    7.40, 6.45, 7.10, 6.30, 6.90, 6.00, 6.85, 6.45, 7.05, 6.35, 6.95, 6.55, 7.25, 6.40, 7.90, 6.15, 6.95, 6.45, 7.10, 6.50,
    6.95, 6.25, 7.15, 6.55, 7.00, 6.40, 7.30, 6.50, 6.95, 6.10, 7.05, 6.45, 7.45, 6.55, 6.90, 6.35, 7.05, 6.50, 6.95, 6.40,
    7.10, 6.50, 6.90, 6.20, 7.20, 6.55, 6.95, 6.40, 7.35, 6.50, 7.00, 6.35, 6.95, 6.55, 7.10, 6.45, 6.90, 6.25, 7.05, 6.50,
    7.10, 6.45, 6.95, 6.55, 7.20, 6.40, 7.95, 6.45, 6.90, 6.15, 7.25, 6.55, 6.95, 6.40, 7.05, 6.50, 6.90, 6.30, 7.05, 6.45,
    7.10, 6.55, 6.85, 6.40, 7.40, 6.50, 6.95, 6.20, 7.05, 6.45, 6.95, 5.70, 6.95, 6.50, 7.15, 6.45, 6.90, 6.55, 7.00, 6.40,
    6.95, 6.55, 7.80, 6.50, 6.90, 6.25, 7.20, 6.55, 6.95, 6.45, 7.10, 6.50, 7.35, 6.45, 6.95, 6.55, 7.00, 6.35, 7.10, 6.50,
    6.90, 6.35, 7.40, 6.55, 6.95, 6.20, 7.10, 6.50, 6.95, 6.40, 7.05, 6.55, 6.90, 6.30, 7.25, 6.50, 6.95, 6.05, 7.00, 6.45,
    7.30, 6.45, 6.90, 6.55, 7.05, 6.40, 6.95, 6.50, 7.10, 6.45, 7.30, 6.55, 6.90, 6.45, 7.05, 6.50, 6.95, 6.40, 7.10, 6.55,
    6.85, 6.40, 7.20, 6.35, 7.00, 6.55, 6.95, 6.45, 7.15, 6.50, 6.90, 6.25, 7.75, 6.55, 6.95, 6.25, 7.00, 6.50, 6.95, 6.45,
    7.15, 6.40, 6.90, 6.55, 7.35, 6.20, 6.95, 6.50, 7.10, 6.45, 6.90, 6.55, 7.10, 6.45, 7.00, 6.50, 6.95, 6.40, 7.05, 6.55,
    6.90, 6.30, 7.25, 6.55, 6.95, 6.15, 7.45, 6.50, 6.95, 6.45, 7.05, 6.55, 6.90, 6.40, 7.15, 6.50, 6.95, 6.45, 7.60, 6.50,
    6.95, 6.40, 7.05, 6.55, 6.90, 6.45, 7.05, 5.85, 6.85, 5.40, 7.20, 6.50, 6.90, 6.55, 7.30, 6.35, 6.95, 6.50, 7.00, 6.45,
    7.00, 6.55, 7.40, 6.45, 6.95, 6.20, 7.05, 6.50, 6.95, 6.45, 7.05,
]

draws = {
    "b_mu1_Intercept": [mu1_chain1, mu1_chain2, mu1_chain3, mu1_chain4],
    "b_mu2_Intercept": [mu2_chain1, mu2_chain2, mu2_chain3, mu2_chain4],
    "b_theta2_Intercept": [theta2_chain1, theta2_chain2, theta2_chain3, theta2_chain4],
    "sigma1": [sigma1_chain1, sigma1_chain2, sigma1_chain3, sigma1_chain4],
}

# Long-format table: one row per (parameter, chain, iteration)
rows = []
for par, series in draws.items():
    for ch, vals in zip(chains, series):
        its = np.linspace(2500, 5000, len(vals))
        for it, v in zip(its, vals):
            rows.append((par, ch, it, v))
df = pd.DataFrame(rows, columns=["parameter", "chain", "iteration", "value"])

# ---------------------------------------------------------------------------
# Styling
# ---------------------------------------------------------------------------
sns.set_theme(style="ticks")
plt.rcParams["font.family"] = ["Liberation Sans", "DejaVu Sans"]

W, H = 1137, 531
fig = plt.figure(figsize=(W / 100, H / 100), dpi=100)
fig.patch.set_facecolor("white")

def px_axes(left, top, right, bottom):
    return fig.add_axes([left / W, 1 - bottom / H, (right - left) / W, (bottom - top) / H])

boxes = [
    (55, 45, 500, 218),
    (558, 45, 1003, 218),
    (55, 319, 500, 491),
    (558, 319, 1003, 491),
]
palette = dict(zip(chains, chain_colors))
tick_color = "#4D4D4D"
line_color = "#262626"

for par, box in zip(parameters, boxes):
    ax = px_axes(*box)
    sub = df[df["parameter"] == par]
    sns.lineplot(
        data=sub, x="iteration", y="value", hue="chain", hue_order=chains,
        palette=palette, estimator=None, sort=False, linewidth=2.2,
        ax=ax, legend=False,
    )
    for ln in ax.get_lines():
        ln.set_solid_joinstyle("round")
        ln.set_solid_capstyle("butt")
    lo, hi = sub["value"].min(), sub["value"].max()
    pad = (hi - lo) * 0.05
    ax.set_ylim(lo - pad, hi + pad)
    ax.set_xlim(2500 - 125, 5000 + 125)
    ax.set_xticks(x_ticks)
    ax.set_xticklabels([str(t) for t in x_ticks])
    ax.set_yticks(y_ticks[par])
    ax.set_yticklabels(y_tick_labels[par])
    ax.set_xlabel("")
    ax.set_ylabel("")
    ax.set_title(par, fontsize=18, fontweight="bold", color="black", pad=9)
    for side in ("top", "right"):
        ax.spines[side].set_visible(False)
    for side in ("left", "bottom"):
        ax.spines[side].set_linewidth(2.0)
        ax.spines[side].set_color(line_color)
    ax.tick_params(axis="both", length=4, width=1.5, color=line_color,
                   labelsize=17, labelcolor=tick_color, pad=3)
    ax.set_facecolor("white")

handles = [Line2D([], [], color=c, linewidth=2.0) for c in chain_colors]
leg = fig.legend(
    handles, chains, title="chain", loc="upper left",
    bbox_to_anchor=(1042 / W, 1 - 148 / H), frameon=False,
    fontsize=17, title_fontsize=20.5, handlelength=1.65,
    handletextpad=1.0, labelspacing=0.95, borderpad=0, alignment="left",
)

fig.savefig("out.png", dpi=100, facecolor="white")
